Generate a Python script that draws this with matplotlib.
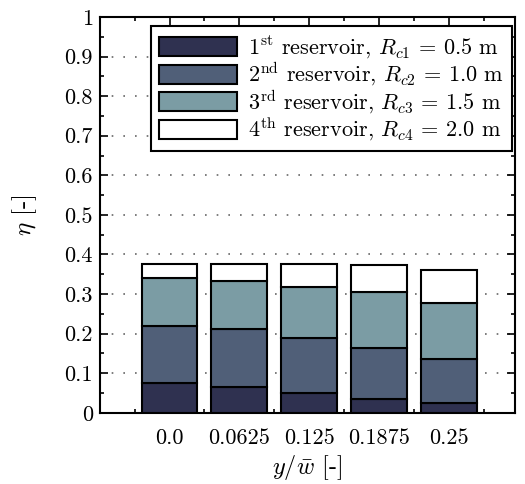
import numpy as np
import matplotlib
matplotlib.use("Agg")
import matplotlib.pyplot as plt
from matplotlib.ticker import MultipleLocator, FixedLocator

plt.rcParams['font.family'] = 'serif'
plt.rcParams['font.serif'] = ['cmr10', 'DejaVu Serif']
plt.rcParams['mathtext.fontset'] = 'cm'
plt.rcParams['axes.formatter.use_mathtext'] = True

# data (cumulative heights, turned into segments)
positions = ['0.0', '0.0625', '0.125', '0.1875', '0.25']
res1 = [0.075, 0.065, 0.049, 0.036, 0.025]
res2 = [0.145, 0.148, 0.141, 0.128, 0.111]
res3 = [0.120, 0.121, 0.129, 0.140, 0.142]
res4 = [0.036, 0.042, 0.057, 0.070, 0.084]

labels = [r'1$^{\rm st}$ reservoir, $R_{c1}$ = 0.5 m',
          r'2$^{\rm nd}$ reservoir, $R_{c2}$ = 1.0 m',
          r'3$^{\rm rd}$ reservoir, $R_{c3}$ = 1.5 m',
          r'4$^{\rm th}$ reservoir, $R_{c4}$ = 2.0 m']
colors = ['#2f3150', '#505f78', '#7b9ca4', '#ffffff']

fig = plt.figure(figsize=(5.25, 4.84), dpi=100)
ax = fig.add_axes([0.19, 0.147, 0.791, 0.818])

x = np.arange(1, len(positions) + 1)
bottom = np.zeros(len(positions))
for vals, c, lab in zip([res1, res2, res3, res4], colors, labels):
    ax.bar(x, vals, 0.8, bottom=bottom, color=c, edgecolor='black',
           linewidth=1.5, label=lab, zorder=3)
    bottom += np.array(vals)

ax.set_xlim(0, 5.95)
ax.set_ylim(0, 1)
ax.set_xticks(x)
ax.set_xticklabels(positions)
ax.xaxis.set_minor_locator(FixedLocator(np.arange(0.5, 6.0, 1.0)))
ax.set_yticks(np.arange(0, 1.01, 0.1))
ax.set_yticklabels(['0'] + ['%.1f' % v for v in np.arange(0.1, 0.95, 0.1)] + ['1'])
ax.yaxis.set_minor_locator(MultipleLocator(0.05))

ax.tick_params(which='both', direction='in', top=True, right=True,
               labelsize=16, width=1.2)
ax.tick_params(which='major', length=6)
ax.tick_params(which='minor', length=3)
ax.tick_params(axis='x', pad=11)
ax.tick_params(axis='y', pad=5)
for s in ax.spines.values():
    s.set_linewidth(1.5)

ax.yaxis.grid(True, linestyle=(0, (1, 6)), color='#666666', linewidth=1.2, zorder=0)

ax.set_xlabel(r'$y/\bar{w}$ [-]', fontsize=17.5, labelpad=4)
ax.set_ylabel(r'$\eta$ [-]', fontsize=18, labelpad=18)

leg = ax.legend(loc='upper right', bbox_to_anchor=(0.993, 0.976),
                fontsize=16, frameon=True, fancybox=False,
                edgecolor='black', framealpha=1, handlelength=3.5,
                handleheight=0.92, borderaxespad=0, labelspacing=0.0,
                handletextpad=0.5, borderpad=0.36)
leg.get_frame().set_linewidth(1.5)

fig.savefig('out.png', dpi=100)
